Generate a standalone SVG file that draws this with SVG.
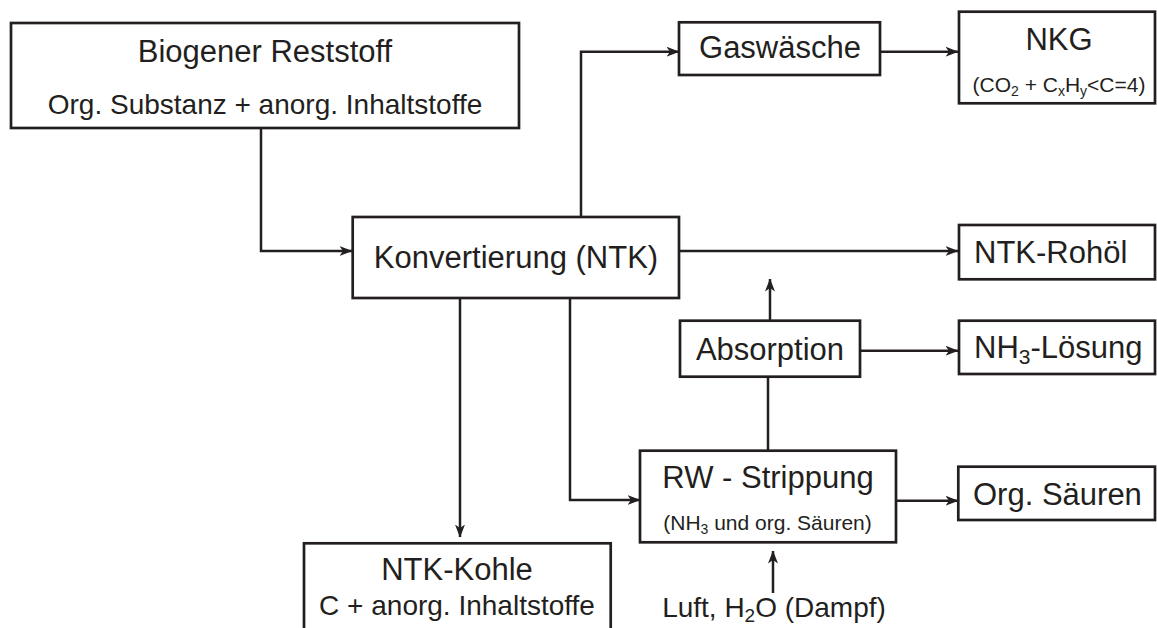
<svg xmlns="http://www.w3.org/2000/svg" width="1157" height="628" viewBox="0 0 1157 628">
<style>
.box{fill:#fff;stroke:#231f20;stroke-width:2.7}
.ln{fill:none;stroke:#231f20;stroke-width:2.5}
.arr{marker-end:url(#ah)}
text{font-family:"Liberation Sans",Arial,Helvetica,sans-serif;fill:#231f20}
.t1{font-size:31px}
.t2{font-size:28px}
.t3{font-size:21px}
.m{text-anchor:middle}
</style>
<defs>
<marker id="ah" markerWidth="13" markerHeight="10" refX="12.5" refY="5" orient="auto" markerUnits="userSpaceOnUse">
<path d="M0,0 L13,5 L0,10 L3.5,5 z" fill="#231f20"/>
</marker>
</defs>
<g id="connectors">
<path class="ln arr" d="M261,128 V251 H352"/>
<path class="ln arr" d="M581,217 V51.7 H679"/>
<path class="ln arr" d="M679,251 H958"/>
<path class="ln arr" d="M880,51.7 H958"/>
<path class="ln arr" d="M460,298 V537"/>
<path class="ln arr" d="M570,298 V500 H640"/>
<path class="ln" d="M768,451 V377"/>
<path class="ln arr" d="M770,321 V279"/>
<path class="ln arr" d="M860,350.7 H958"/>
<path class="ln arr" d="M896,500.7 H958"/>
<path class="ln arr" d="M773,593 V551"/>
</g>
<g id="biogener">
<rect class="box" x="11" y="23" width="508" height="105"/>
<text class="t1 m" x="265" y="62">Biogener Reststoff</text>
<text class="t2 m" x="265" y="114">Org. Substanz + anorg. Inhaltstoffe</text>
</g>
<g id="konvertierung">
<rect class="box" x="352.7" y="217" width="326.3" height="81"/>
<text class="t1 m" x="516" y="268">Konvertierung (NTK)</text>
</g>
<g id="gaswaesche">
<rect class="box" x="679" y="22.3" width="201" height="52.7"/>
<text class="t1 m" x="780" y="58.3">Gaswäsche</text>
</g>
<g id="nkg">
<rect class="box" x="959" y="11.7" width="196" height="91.6"/>
<text class="t1 m" x="1059" y="50">NKG</text>
<text class="t3 m" x="1059" y="91.7">(CO<tspan font-size="14" dy="4">2</tspan><tspan dy="-4"> + C</tspan><tspan font-size="14" dy="4">x</tspan><tspan dy="-4">H</tspan><tspan font-size="14" dy="4">y</tspan><tspan dy="-4">&lt;C=4)</tspan></text>
</g>
<g id="rohoel">
<rect class="box" x="959" y="225" width="196" height="54.3"/>
<text class="t1" x="974" y="263.3">NTK-Rohöl</text>
</g>
<g id="absorption">
<rect class="box" x="680" y="320.7" width="180" height="56"/>
<text class="t1 m" x="770" y="360">Absorption</text>
</g>
<g id="nh3loesung">
<rect class="box" x="959" y="320.7" width="196" height="53.3"/>
<text class="t1" x="974" y="358.3">NH<tspan font-size="21" dy="6">3</tspan><tspan dy="-6">-Lösung</tspan></text>
</g>
<g id="strippung">
<rect class="box" x="640" y="450.7" width="256" height="91.6"/>
<text class="t1 m" x="768" y="488.3">RW - Strippung</text>
<text class="t3 m" x="767.5" y="530">(NH<tspan font-size="14" dy="4">3</tspan><tspan dy="-4"> und org. Säuren)</tspan></text>
</g>
<g id="saeuren">
<rect class="box" x="958.3" y="466.7" width="196.7" height="53.3"/>
<text class="t1" x="973" y="505">Org. Säuren</text>
</g>
<g id="kohle">
<rect class="box" x="304" y="543.3" width="306.7" height="100"/>
<text class="t1 m" x="457" y="580">NTK-Kohle</text>
<text class="t2 m" x="457" y="615">C + anorg. Inhaltstoffe</text>
</g>
<g id="luft">
<text class="t2 m" x="774" y="616.7">Luft, H<tspan font-size="19" dy="5">2</tspan><tspan dy="-5">O (Dampf)</tspan></text>
</g>
</svg>
